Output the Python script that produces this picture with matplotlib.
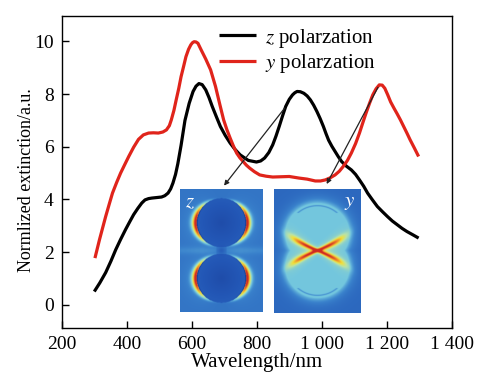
import numpy as np
import matplotlib
matplotlib.use("Agg")
import matplotlib.pyplot as plt
from matplotlib.colors import LinearSegmentedColormap

plt.rcParams["font.family"] = ["Liberation Serif", "DejaVu Serif"]
plt.rcParams["mathtext.fontset"] = "stix"

# z polarization (black)
z_wl = [299, 316, 334, 350, 365, 380, 395, 408, 420, 433, 445, 455, 466, 476, 491, 506,
        516, 526, 534, 541, 549, 556, 566, 578, 591, 603, 612, 621, 631, 642, 652, 662,
        675, 687, 702, 717, 732, 748, 773, 798, 811, 823, 836, 848, 858, 868, 878, 888,
        899, 909, 916, 923, 933, 944, 954, 964, 974, 984, 994, 1004, 1012, 1020, 1030,
        1040, 1050, 1060, 1075, 1090, 1103, 1115, 1128, 1140, 1155, 1170, 1186, 1201,
        1216, 1231, 1246, 1261, 1280, 1297]
z_ext = [0.50, 0.83, 1.22, 1.65, 2.09, 2.48, 2.85, 3.15, 3.42, 3.66, 3.86, 3.98, 4.03, 4.05,
         4.07, 4.09, 4.14, 4.24, 4.40, 4.62, 4.95, 5.35, 6.05, 7.00, 7.65, 8.10, 8.30, 8.40,
         8.36, 8.16, 7.87, 7.53, 7.13, 6.77, 6.43, 6.14, 5.90, 5.69, 5.48, 5.42, 5.46, 5.57,
         5.78, 6.07, 6.40, 6.77, 7.16, 7.53, 7.80, 7.97, 8.05, 8.10, 8.09, 8.03, 7.93, 7.78,
         7.58, 7.34, 7.07, 6.77, 6.50, 6.25, 6.02, 5.82, 5.62, 5.44, 5.26, 5.12, 4.95, 4.74,
         4.50, 4.24, 3.98, 3.73, 3.53, 3.35, 3.18, 3.04, 2.90, 2.78, 2.65, 2.53]

# y polarization (red)
y_wl = [301, 315, 334, 345, 355, 368, 380, 393, 405, 420, 435, 450, 466, 481, 496, 510,
        521, 530, 536, 544, 551, 559, 566, 574, 581, 589, 596, 601, 606, 612, 618, 627,
        642, 657, 672, 685, 697, 707, 717, 727, 737, 747, 757, 767, 777, 792, 808, 828,
        848, 874, 899, 929, 954, 979, 995, 1010, 1025, 1040, 1053, 1065, 1078, 1090, 1103,
        1115, 1125, 1135, 1146, 1156, 1166, 1176, 1185, 1193, 1202, 1211, 1221, 1231,
        1241, 1251, 1261, 1271, 1284, 1297]
y_ext = [1.77, 2.47, 3.35, 3.82, 4.24, 4.65, 5.00, 5.33, 5.63, 5.98, 6.28, 6.45, 6.52, 6.53,
         6.52, 6.56, 6.64, 6.80, 7.02, 7.38, 7.78, 8.22, 8.66, 9.06, 9.42, 9.70, 9.87, 9.95,
         9.99, 9.98, 9.93, 9.70, 9.33, 8.92, 8.29, 7.62, 7.02, 6.65, 6.33, 6.03, 5.76, 5.58,
         5.44, 5.30, 5.19, 5.05, 4.93, 4.88, 4.85, 4.86, 4.87, 4.81, 4.77, 4.70, 4.70, 4.74,
         4.82, 4.93, 5.07, 5.25, 5.48, 5.76, 6.12, 6.52, 6.90, 7.27, 7.65, 7.97, 8.20, 8.35,
         8.34, 8.22, 7.97, 7.70, 7.47, 7.25, 7.02, 6.77, 6.52, 6.26, 5.95, 5.63]

x_ticks = [200, 400, 600, 800, 1000, 1200, 1400]
x_labels = ["200", "400", "600", "800", "1 000", "1 200", "1 400"]
y_ticks = [0, 2, 4, 6, 8, 10]

fig = plt.figure(figsize=(4.93, 3.88), dpi=100)
ax = fig.add_axes([0.126, 0.155, 0.791, 0.804])

ax.plot(z_wl, z_ext, color="black", lw=2.3, solid_capstyle="butt", solid_joinstyle="round",
        label="$z$ polarzation")
ax.plot(y_wl, y_ext, color="#e0241b", lw=2.3, solid_capstyle="butt", solid_joinstyle="round",
        label="$y$ polarzation")

ax.set_xlim(210, 1390)
ax.set_ylim(-0.88, 10.97)
ax.set_xticks(x_ticks)
ax.set_xticklabels(x_labels)
ax.set_yticks(y_ticks)
ax.tick_params(direction="in", length=5, width=1, labelsize=14, pad=6)
ax.set_xlabel("Wavelength/nm", fontsize=15, labelpad=0)
ax.set_ylabel("Normlized extinction/a.u.", fontsize=13)
ax.yaxis.set_label_coords(-0.07, 0.474)
for s in ax.spines.values():
    s.set_linewidth(1.0)

ax.legend(loc="upper left", bbox_to_anchor=(0.366, 1.012), frameon=False, fontsize=15,
          handlelength=1.75, handletextpad=0.45, labelspacing=0.1, borderaxespad=0.3)

# arrows from peaks to the field maps
ax.annotate("", xy=(693, 4.44), xytext=(890, 7.55),
            arrowprops=dict(arrowstyle="-|>", color="#222222", lw=0.9, mutation_scale=7))
ax.annotate("", xy=(1010, 4.49), xytext=(1176, 8.35),
            arrowprops=dict(arrowstyle="-|>", color="#222222", lw=0.9, mutation_scale=7))

# field maps
cmap = LinearSegmentedColormap.from_list(
    "field", ["#17368f", "#2357b6", "#3a82cc", "#72c6df", "#b9e3a8", "#f0e03c", "#ef8a2c", "#cf2a22"])

gx, gy = np.meshgrid(np.linspace(-1, 1, 164), np.linspace(-1.5, 1.5, 246))

# z map: two stacked oval lobes with crescents on the outer sides
fz = np.full(gx.shape, 0.24)
fz += 0.05 * np.exp(-(gy / 0.1) ** 2) * (np.abs(gx) > 0.12)
for cy in (0.68, -0.68):
    e = np.hypot(gx / 0.6, (gy - cy) / 0.6)
    ang = np.arctan2((gy - cy) / 0.6, gx / 0.6)
    c = np.abs(np.cos(ang))
    out = np.clip(e - 1, 0, None)
    inside = e < 1
    fz = np.where(inside, np.minimum(fz, 0.10 + 0.06 * e), fz)
    fz += (0.78 * np.exp(-(out / (0.04 + 0.14 * c ** 2)) ** 2)
           + 0.14 * np.exp(-out / 0.3)) * (~inside) * c ** 2.2
    fz -= 0.25 * np.exp(-((e - 1.0) / 0.03) ** 2) * c ** 3
fz -= 0.07 * np.exp(-(gx ** 2 + gy ** 2) / 0.008)
fz = np.clip(fz, 0, 1)

# y map: peanut shaped bright zone with a central X hot spot
r1 = np.hypot(gx, gy - 0.4)
r2 = np.hypot(gx, gy + 0.4)
rm = np.minimum(r1, r2)
R2 = 0.74
fy = np.where(rm < R2, 0.43, 0.22 * np.exp(-(rm - R2) / 0.12) + 0.2)
fy -= 0.12 * np.exp(-((rm - R2 + 0.06) / 0.015) ** 2) * (np.abs(gy) > 0.9)
for sgn in (1, -1):
    d = np.abs(gy - sgn * 0.42 * gx * (1 + 0.4 * np.abs(gx))) / np.sqrt(1 + 0.42 ** 2)
    w = 0.035 + 0.09 * np.abs(gx)
    arm = np.exp(-(d / w) ** 2) * np.exp(-(np.abs(gx) / 0.62) ** 4)
    fy += 0.5 * arm + 0.08 * np.exp(-(d / (2.5 * w)) ** 2) * np.exp(-(np.abs(gx) / 0.62) ** 4)
fy = np.clip(fy, 0, 1)

axz = fig.add_axes([0.365, 0.195, 0.168, 0.317])
axz.imshow(fz, cmap=cmap, vmin=0, vmax=1, aspect="auto", interpolation="bilinear")
axz.text(0.06, 0.97, "$z$", color="white", fontsize=15, transform=axz.transAxes, va="top", ha="left")
axz.axis("off")

axy = fig.add_axes([0.556, 0.193, 0.176, 0.32])
axy.imshow(fy, cmap=cmap, vmin=0, vmax=1, aspect="auto", interpolation="bilinear")
axy.text(0.94, 0.97, "$y$", color="white", fontsize=15, transform=axy.transAxes, va="top", ha="right")
axy.axis("off")

fig.savefig("out.png", dpi=100)
